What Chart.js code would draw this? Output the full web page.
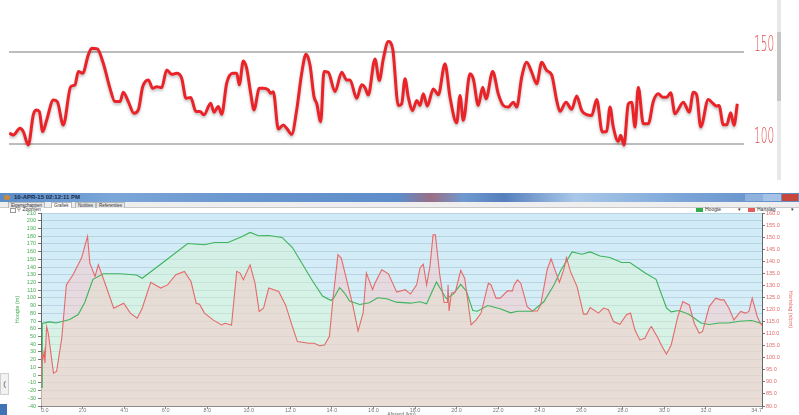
<!DOCTYPE html>
<html>
<head>
<meta charset="utf-8">
<script src="https://cdn.jsdelivr.net/npm/chart.js@4"></script>
<style>
  body { margin:0; width:799px; height:415px; overflow:hidden; position:relative; background:#fff; font-family:"Liberation Sans", Arial, sans-serif; }
  .abs { position:absolute; }
  #titlebar { left:0; top:193px; width:799px; height:9px;
    background:linear-gradient(90deg,#5a8cc8 0%,#7ba6d8 14%,#6a97cf 30%,#5f8dca 50%,#9a6f85 54%,#6f9ad0 58%,#557fbd 63%,#a9c8e8 72%,#7aa4d7 86%,#5f8cc7 100%); }
  #titlebar .t { left:14px; top:0; font-size:6px; line-height:9px; color:#1a2a48; font-weight:bold; }
  #tabs { left:0; top:202px; width:799px; height:5px; background:#eeeeee; border-bottom:1px solid #c9c9c9; }
  .tab { top:202px; height:5px; font-size:4.5px; line-height:5px; color:#333; border:1px solid #b8b8b8; border-bottom:none; background:#e6e6e6; padding:0 2px; }
  .tab.sel { background:#fff; }
  .tiny { font-size:5px; line-height:6px; color:#333; }
</style>
</head>
<body>
<div class="abs" style="left:0;top:0;width:799px;height:180px"><canvas id="hrTop"></canvas></div>
<div class="abs" style="left:777px;top:0;width:4px;height:180px;background:#e8e8e8"></div>
<div class="abs" style="left:777px;top:32px;width:4px;height:69px;background:#c7c7c7"></div>

<div id="titlebar" class="abs">
  <div class="abs" style="left:4px;top:2px;width:6px;height:5px;border-radius:3px;background:#c98a3a"></div>
  <div class="abs t">10-APR-15 02:12:11 PM</div>
  <div class="abs" style="left:745px;top:1px;width:18px;height:7px;background:#8fb2dc"></div>
  <div class="abs" style="left:763px;top:1px;width:18px;height:7px;background:#a6c2e4"></div>
  <div class="abs" style="left:782px;top:1px;width:16px;height:7px;background:#c7473c"></div>
</div>
<div id="tabs" class="abs"></div>
<div class="abs tab" style="left:8px">Eigenschappen</div>
<div class="abs tab sel" style="left:51px">Grafiek</div>
<div class="abs tab" style="left:75px">Notities</div>
<div class="abs tab" style="left:96px">Referenties</div>
<div class="abs" style="left:10px;top:208px;width:4px;height:3px;border:1px solid #999;background:#fff"></div>
<div class="abs tiny" style="left:17px;top:206px">&#9906; Zoomen</div>
<div class="abs" style="left:696px;top:208px;width:7px;height:4px;background:#2fae4a"></div>
<div class="abs tiny" style="left:705px;top:206px">Hoogte</div>
<div class="abs tiny" style="left:738px;top:206px">&#9662;</div>
<div class="abs" style="left:748px;top:208px;width:7px;height:4px;background:#e25a5a"></div>
<div class="abs tiny" style="left:757px;top:206px">Hartslag</div>
<div class="abs tiny" style="left:791px;top:206px">&#9662;</div>
<div class="abs" style="left:0;top:373px;width:7px;height:20px;background:#f2f2f2;border:1px solid #cfcfcf;font-size:8px;line-height:20px;color:#555;text-align:center">(</div>
<div class="abs" style="left:0;top:404px;width:7px;height:11px;background:#3f73b5"></div>

<div class="abs" style="left:0;top:205px;width:799px;height:220px"><canvas id="hrBottom"></canvas></div>

<script>
// top: heart rate (smoothed), minutes vs bpm
const topMinutes = [0.03,0.43,1.1,1.43,1.93,2.43,2.7,3.03,3.37,3.77,4.43,4.83,5.43,6.17,6.6,6.93,7.37,7.93,8.27,8.83,9.43,10.1,10.6,11.1,11.43,11.93,12.5,12.93,13.37,13.93,14.37,14.77,15.27,15.77,16.27,16.77,17.27,17.7,18.17,18.7,19.1,19.5,20.17,20.5,20.93,21.27,21.77,22.37,22.77,23.03,23.43,23.77,24.17,24.5,25.03,25.43,25.93,26.17,26.43,26.93,27.43,27.77,28.27,28.77,29.27,29.7,30.1,30.5,30.77,31.17,31.5,31.93,32.6,33.27,33.77,34.1,34.77,35.27,35.6,35.93,36.6,37.03,37.43,37.93,38.37,38.93,39.27,39.6,39.93,40.37,40.77,41.1,41.43,41.83,42.43,42.93,43.6,44.1,44.77,45.1,45.43,46.1,46.43,46.93,47.37,47.7,48.37,48.93,49.43,49.93,50.43,50.77,51.27,51.77,52.27,52.77,53.27,53.77,54.27,54.77,55.1,55.7,56.27,56.77,57.27,57.77,58.27,58.77,59.33,59.77,60.1,60.43,60.93,61.17,61.5,61.93,62.27,62.6,62.93,63.43,63.93,64.43,64.93,65.37,65.77,66.17,66.6,67.43,68.03,68.43,68.77,69.17,69.93,70.43,70.77,71.0,71.43,71.77,72.17,72.5,72.83];
const topBpm = [106,105.1,108.7,106.9,99.6,116,118.7,117.8,106.9,113.2,124.1,123.2,110.5,131.3,132.3,139.5,138.6,148.6,152.2,151.8,144,130.4,123.2,123.2,128.3,123.2,116.9,118.7,131.3,135,130.4,131.3,130.8,140.4,138,138.6,135.9,125,125.4,117.8,117.8,116,122.3,117.4,120.5,116.3,133.2,138.6,138.6,132.3,145.3,141.3,127.7,118.7,130.4,130.4,129.5,127.7,128.6,108.3,110.5,108.7,105.4,118.7,138.6,148.9,143.1,125.9,122.3,112.3,139.5,139.1,128.6,139.1,135,135,125,132.3,130.8,126.8,146.4,134.7,146.4,155.8,151.8,121.1,122,135.6,125.6,118.4,123.8,121.1,127.4,120.8,130.1,126.9,143.7,125.6,111.7,126.5,113,138.3,135.6,121.1,131,124.7,139.5,127.4,121.1,120.2,122.9,120.2,136.5,144.6,139.2,132.9,144.6,140.1,137.7,123.8,117.9,122.9,119,126.2,118.4,116.1,115.7,124.4,106.7,107,120.2,109.4,101.6,104.9,99.5,122,122.9,109.4,131,111.2,111.2,123.3,127.4,125.6,125.6,128,116.6,122.9,117.5,128.3,126.9,109.4,124.4,122,120.8,121.1,110.6,110.6,117.1,110.3,122];
const topGridValues = [100, 150];

// bottom: Hoogte (m) and Hartslag (slpm) over Afstand (km)
const hoogteKm = [0,0.05,0.06,0.4,0.73,1.38,1.79,2.1,2.27,2.5,3.0,3.8,4.6,4.87,5.76,7.06,7.87,8.36,9.0,9.66,10.06,10.47,10.96,11.6,12.1,13.07,13.55,13.96,14.1,14.37,14.6,14.85,15.34,15.8,16.2,16.64,17.1,17.78,18.24,18.56,19.03,19.51,19.83,20.2,20.47,20.78,21.0,21.5,22.1,22.6,22.93,23.65,24.2,24.7,25.0,25.56,26.03,26.43,26.9,27.38,27.94,28.34,29.06,29.6,30.1,30.33,30.7,31.2,31.76,32.16,32.63,33.1,33.6,34.2,34.6,34.7];
const hoogteM = [-15.7,-15.7,66.8,69,67.6,72,78.5,93.7,106.7,124,131.4,131.4,129.7,125.4,143.6,170.5,168.8,171.8,171.8,179.2,184.8,180.5,180.9,178.3,165.3,121.9,102.4,96.7,100.2,113.2,106.7,95.9,91.5,93.7,100.2,98.9,94.5,93.2,95,92.4,120.6,98.9,104.5,117.5,108.9,83.7,82.8,90.2,85.9,80.7,82.8,82.8,95,117.5,134.9,159.6,156.6,159.6,154.4,152.3,145.8,145.8,132.7,124,87.2,82,83.7,78.5,67.6,65.5,67.6,67.6,69.8,70.7,67.6,66];
const hartslagKm = [0,0.05,0.1,0.15,0.19,0.27,0.35,0.6,0.75,1.0,1.22,1.54,1.95,2.24,2.35,2.6,2.76,3.08,3.5,3.98,4.3,4.63,4.87,5.28,5.76,6.09,6.49,6.9,7.22,7.47,7.63,7.87,8.28,8.69,8.85,9.17,9.42,9.58,9.74,10.06,10.3,10.5,10.71,10.96,11.44,11.77,12.1,12.34,12.9,13.15,13.4,13.64,13.88,14.04,14.29,14.45,14.69,15.02,15.26,15.5,15.66,15.96,16.07,16.4,16.72,17.12,17.53,17.78,18.08,18.24,18.4,18.56,18.72,18.87,18.98,19.19,19.4,19.56,19.59,19.64,19.75,19.94,20.2,20.39,20.7,20.94,21.18,21.53,21.66,21.9,22.1,22.45,22.69,22.77,22.93,23.09,23.4,23.65,23.89,24.05,24.36,24.55,24.76,24.95,25.16,25.29,25.48,25.8,26.11,26.27,26.43,26.83,27.07,27.31,27.55,27.86,28.18,28.37,28.58,28.82,29.06,29.3,29.38,29.7,29.85,30.1,30.33,30.65,30.89,31.2,31.44,31.68,31.84,32.16,32.47,32.71,32.87,33.11,33.35,33.67,33.91,34.07,34.23,34.47,34.62,34.7];
const hartslagBpm = [90.8,101.2,99.8,102.6,97.7,112.9,110.2,93.6,94.3,108.1,130.2,134.4,141.3,150.3,139.2,133.7,138.5,130.9,120.5,122.6,118.5,116.4,120.5,131.3,128.9,130.2,134.4,135.8,131.6,122.6,122.2,118.5,115.7,113.6,114.3,113.6,135.8,135.1,132.3,138.5,130.9,119.2,120.5,128.9,127.5,121.9,112.9,106.7,106,106,105,105.3,108.8,123.3,142.7,141.3,133,121.2,111.1,118.5,135.1,128.2,130.9,136.5,134.8,127.2,128.2,126.4,130.2,137.2,138.8,130.2,137.9,151,151,134.4,122.9,122.9,130.2,119.4,126.8,127.2,136.2,133,113.6,115.7,118.5,130.9,130.2,124.7,124.7,127.7,127.7,130.2,132.3,130.9,121.2,119.4,119.4,121.9,136.5,141,135.8,131.3,136.5,141.6,135.8,129.5,118.1,118.1,120.8,118.5,120.6,119.9,115,113.9,117.8,118.5,111.6,107.4,108.1,112.2,112.9,108.1,105.3,101.5,105.3,117.1,123.3,121.9,114.3,110.2,110.9,121.2,124.7,124,124,120.5,115.7,119.2,118.5,119.2,124.7,117.1,114.3,113.5];
const afstandTicks = [0,2,4,6,8,10,12,14,16,18,20,22,24,26,28,30,32,34.7];
const hoogteRange = [-40, 210];
const hartslagRange = [80, 160];

const tiny = { family: '"Liberation Sans", Arial, sans-serif', size: 5.5 };

// ---------- top chart ----------
const lineShadow = {
  id: 'lineShadow',
  beforeDatasetsDraw(chart) {
    const c = chart.ctx;
    c.save();
    c.shadowColor = 'rgba(0,0,0,0.25)';
    c.shadowBlur = 3;
    c.shadowOffsetY = 2;
  },
  afterDatasetsDraw(chart) { chart.ctx.restore(); }
};

// thin, condensed tick labels next to the two grid lines
const narrowLabels = {
  id: 'narrowLabels',
  afterDraw(chart) {
    const c = chart.ctx, ys = chart.scales.y;
    c.save();
    c.fillStyle = '#e5474a';
    c.font = '200 22px "DejaVu Sans", "Liberation Sans", sans-serif';
    c.textBaseline = 'middle';
    topGridValues.forEach(v => {
      c.save();
      c.translate(754, ys.getPixelForValue(v) - 7);
      c.scale(0.48, 1);
      c.fillText(String(v), 0, 0);
      c.restore();
    });
    c.restore();
  }
};

new Chart(document.getElementById('hrTop'), {
  type: 'line',
  data: {
    datasets: [{
      data: topMinutes.map((t, i) => ({ x: t, y: topBpm[i] })),
      borderColor: '#ea2329',
      borderWidth: 3,
      pointRadius: 0,
      cubicInterpolationMode: 'monotone',
      fill: false
    }]
  },
  options: {
    animation: false,
    responsive: true,
    maintainAspectRatio: false,
    layout: { padding: { left: 9, right: 55, top: 0, bottom: 0 } },
    plugins: { legend: { display: false }, tooltip: { enabled: false } },
    scales: {
      x: { type: 'linear', min: 0, max: 73.5, display: false },
      y: {
        min: 80.6, max: 178.4,
        afterBuildTicks: s => { s.ticks = topGridValues.map(v => ({ value: v })); },
        afterFit: s => { s.width = 0; },
        ticks: { display: false },
        border: { display: false },
        grid: { color: '#bdbdbd', lineWidth: 2, drawTicks: false }
      }
    }
  },
  plugins: [lineShadow, narrowLabels]
});

// ---------- bottom chart ----------
const plotBg = {
  id: 'plotBg',
  beforeDraw(chart) {
    const { ctx, chartArea: a } = chart;
    const g = ctx.createLinearGradient(0, a.top, 0, a.bottom);
    g.addColorStop(0, '#d0ebf7');
    g.addColorStop(1, '#dcf0f6');
    ctx.save();
    ctx.fillStyle = g;
    ctx.fillRect(a.left, a.top, a.right - a.left, a.bottom - a.top);
    ctx.restore();
  }
};

new Chart(document.getElementById('hrBottom'), {
  type: 'line',
  data: {
    datasets: [
      {
        label: 'Hartslag',
        data: hartslagKm.map((k, i) => ({ x: k, y: hartslagBpm[i] })),
        yAxisID: 'y1',
        borderColor: '#e46a6a',
        borderWidth: 1.1,
        backgroundColor: 'rgba(250,195,195,0.45)',
        fill: 'start',
        pointRadius: 0,
        tension: 0,
        order: 0
      },
      {
        label: 'Hoogte',
        data: hoogteKm.map((k, i) => ({ x: k, y: hoogteM[i] })),
        yAxisID: 'y',
        borderColor: '#3db35c',
        borderWidth: 1.1,
        backgroundColor: 'rgba(215,248,205,0.4)',
        fill: 'start',
        pointRadius: 0,
        tension: 0,
        order: 1
      }
    ]
  },
  options: {
    animation: false,
    responsive: true,
    maintainAspectRatio: false,
    layout: { padding: { top: 8, left: 0, right: 0, bottom: 0 } },
    plugins: {
      legend: { display: false },
      tooltip: { enabled: false },
      filler: { drawTime: 'beforeDatasetsDraw' }
    },
    scales: {
      x: {
        type: 'linear', min: 0, max: 34.7,
        afterBuildTicks: s => { s.ticks = afstandTicks.map(v => ({ value: v })); },
        afterFit: s => { s.height = 19; },
        ticks: { font: tiny, color: '#777', autoSkip: false, maxRotation: 0, align: 'inner', padding: -2,
                 callback: v => v.toFixed(1) },
        grid: { drawOnChartArea: false, tickLength: 3, tickColor: '#888' },
        border: { color: '#8a8a8a' },
        title: { display: true, text: 'Afstand (km)', color: '#666', font: { family: tiny.family, size: 5 }, padding: { top: 0, bottom: 7 } }
      },
      y: {
        position: 'left', min: hoogteRange[0], max: hoogteRange[1],
        afterFit: s => { s.width = 41; },
        ticks: { stepSize: 10, font: tiny, color: '#45ad55', autoSkip: false, padding: 2 },
        grid: { color: 'rgba(80,120,140,0.2)', tickLength: 3, tickColor: '#777' },
        border: { color: '#666' },
        title: { display: true, text: 'Hoogte (m)', color: '#45ad55', font: { family: tiny.family, size: 5.5 }, padding: { top: 14, bottom: 0 } }
      },
      y1: {
        position: 'right', min: hartslagRange[0], max: hartslagRange[1],
        afterFit: s => { s.width = 37; },
        ticks: { stepSize: 5, font: tiny, color: '#e46a6a', autoSkip: false, padding: 1,
                 callback: v => v.toFixed(1) },
        grid: { drawOnChartArea: false, tickLength: 3, tickColor: '#777' },
        border: { color: '#666' },
        title: { display: true, text: 'Hartslag (slpm)', color: '#e46a6a', font: { family: tiny.family, size: 5.5 }, padding: { top: 5, bottom: 0 } }
      }
    }
  },
  plugins: [plotBg]
});
</script>
</body>
</html>
